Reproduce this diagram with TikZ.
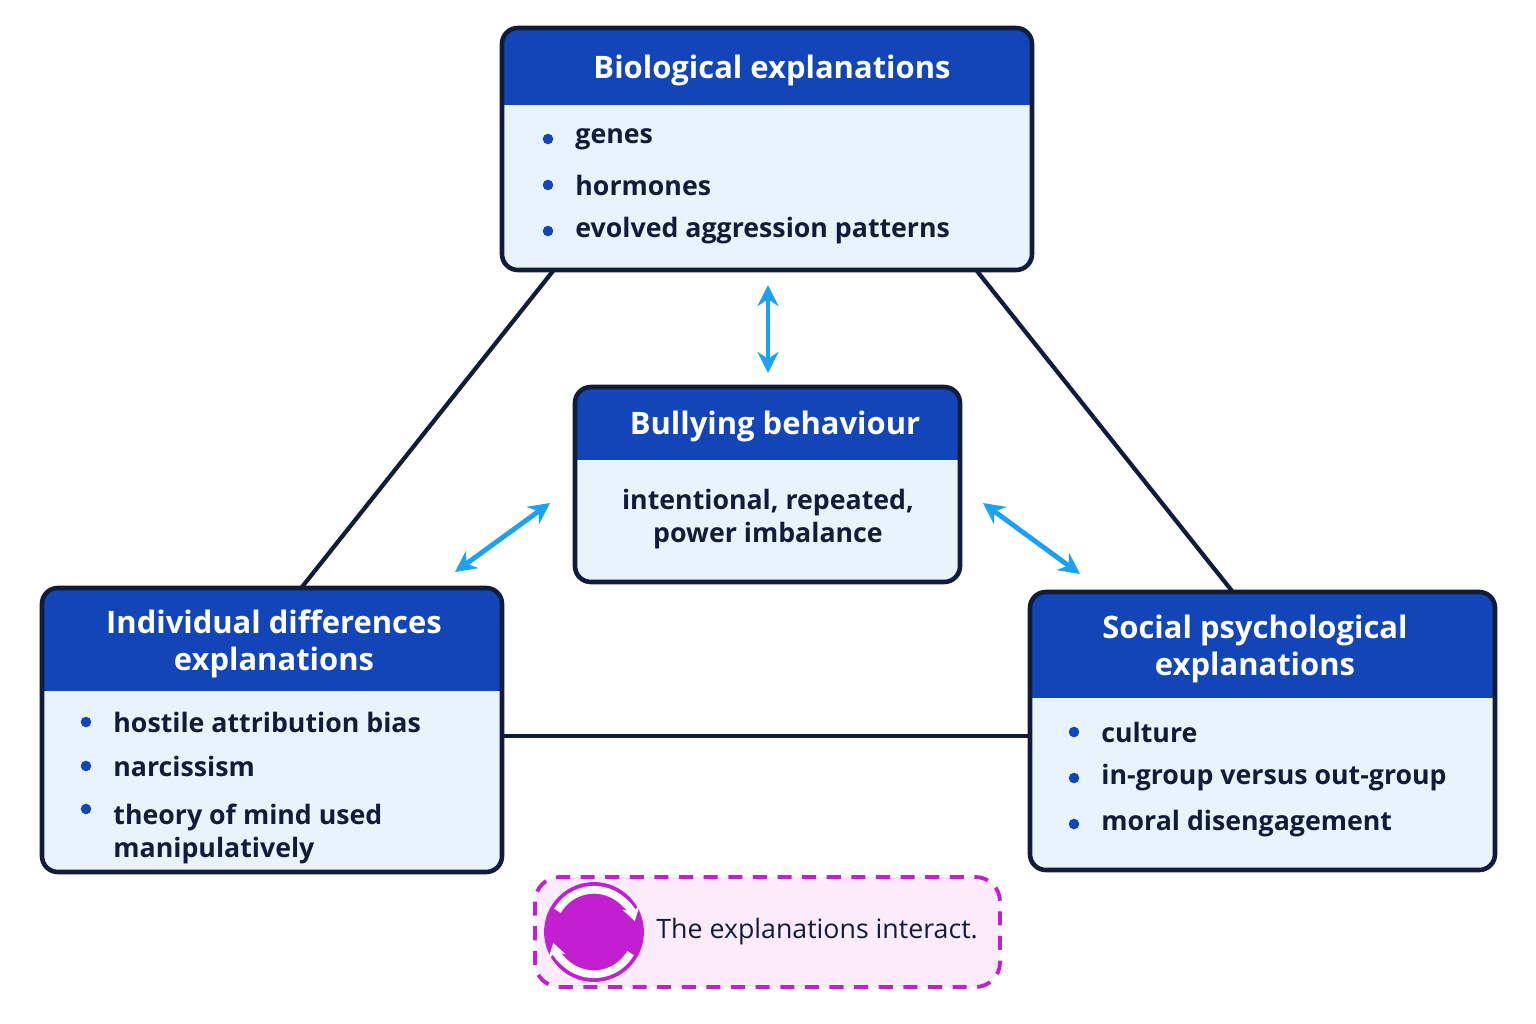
\documentclass[tikz,border=0pt]{standalone}
\usepackage{fontspec}
\setmainfont{Open Sans}
\usetikzlibrary{arrows.meta}
\definecolor{hdr}{HTML}{1245B8}
\definecolor{body}{HTML}{E8F3FD}
\definecolor{edge}{HTML}{111C3A}
\definecolor{cyanarr}{HTML}{1DA1F2}
\definecolor{mag}{HTML}{C21FD1}
\definecolor{pinkbg}{HTML}{FCEBFB}
\tikzset{
  hd/.style={text=white,font=\fontsize{8.8}{10.6}\selectfont\bfseries,align=center},
  item/.style={anchor=west,text=edge,font=\fontsize{7.6}{9.2}\selectfont\bfseries,align=left},
  dot/.style={fill=hdr,circle,inner sep=0pt,minimum size=3pt},
  link/.style={draw=edge,line width=1.2pt},
  twoway/.style={draw=cyanarr,line width=1.4pt,{Stealth[length=6pt,width=6pt]}-{Stealth[length=6pt,width=6pt]}}
}
% panel: name, x1, y1, x2, y2, header bottom
\newcommand\panel[6]{%
  \coordinate (#1-nw) at (#2,#3); \coordinate (#1-se) at (#4,#5);
  \begin{scope}
    \clip[rounded corners=4.5pt] (#2,#3) rectangle (#4,#5);
    \fill[body] (#2,#3) rectangle (#4,#5);
    \fill[hdr] (#2,#3) rectangle (#4,#6);
  \end{scope}
  \draw[edge,line width=1.3pt,rounded corners=4.5pt] (#2,#3) rectangle (#4,#5);
}
\begin{document}
\begin{tikzpicture}[x=0.01cm,y=-0.01cm]
\useasboundingbox[fill=white] (0,0) rectangle (1536,1024);
% connectors between the outer panels
\coordinate (bioL) at (553,271); \coordinate (bioR) at (977,271);
\coordinate (indT) at (302,587); \coordinate (socT) at (1232,591);
\coordinate (indR) at (503,736); \coordinate (socL) at (1030,736);
\draw[link] (bioL)--(indT);
\draw[link] (bioR)--(socT);
\draw[link] (indR)--(socL);
% panels
\panel{bio}{502}{28}{1032}{270}{105}
\panel{bul}{575}{387}{960}{582}{460}
\panel{ind}{42}{588}{502}{872}{691}
\panel{soc}{1030}{592}{1495}{870}{698}
\node[hd] (biohd) at (772,70) {Biological explanations};
\node[hd] (bulhd) at (775,426) {Bullying behaviour};
\node[hd] (indhd) at (274,644) {Individual differences\\explanations};
\node[hd] (sochd) at (1255,649) {Social psychological\\explanations};
\node[item,align=center,anchor=center] (bultx) at (768,519) {intentional, repeated,\\power imbalance};
% bullet lists
\foreach \t [count=\i] in {genes,hormones,evolved aggression patterns}{
  \node[dot] at (548,93+46*\i) {};
  \node[item] (bio\i) at (563,93+46*\i) {\t};
}
\foreach \t [count=\i] in {hostile attribution bias,narcissism}{
  \node[dot] at (86,678+44*\i) {};
  \node[item] (ind\i) at (101,678+44*\i) {\t};
}
\node[dot] at (86,809) {};
\node[item,anchor=north west] (ind3) at (101,792) {theory of mind used\\manipulatively};
\foreach \t [count=\i] in {culture,in-group versus out-group,moral disengagement}{
  \node[dot] at (1074,686+46*\i) {};
  \node[item] (soc\i) at (1089,686+46*\i) {\t};
}
% two-way arrows to the centre
\coordinate (a1) at (768,285); \coordinate (b1) at (768,373);
\coordinate (a2) at (550,503); \coordinate (b2) at (455,572);
\coordinate (a3) at (983,503); \coordinate (b3) at (1080,574);
\draw[twoway] (a1)--(b1);
\draw[twoway] (a2)--(b2);
\draw[twoway] (a3)--(b3);
% note
\draw[mag,fill=pinkbg,dashed,line width=1.1pt,dash pattern=on 4pt off 3pt,rounded corners=7pt] (535,877) rectangle (1000,987);
\node[fill=mag,circle,minimum size=71\pgflinewidth,inner sep=0pt,minimum width=20pt] (icon) at (594,932) {};
\draw[white,line width=2.2pt,-{Stealth[length=4pt,width=5pt]}] ([shift={(150:12pt)}]icon.center) arc[start angle=150,end angle=15,radius=12pt];
\draw[white,line width=2.2pt,-{Stealth[length=4pt,width=5pt]}] ([shift={(-30:12pt)}]icon.center) arc[start angle=-30,end angle=-165,radius=12pt];
\node[item] (note) at (644,932) {\mdseries The explanations interact.};
\end{tikzpicture}
\end{document}
